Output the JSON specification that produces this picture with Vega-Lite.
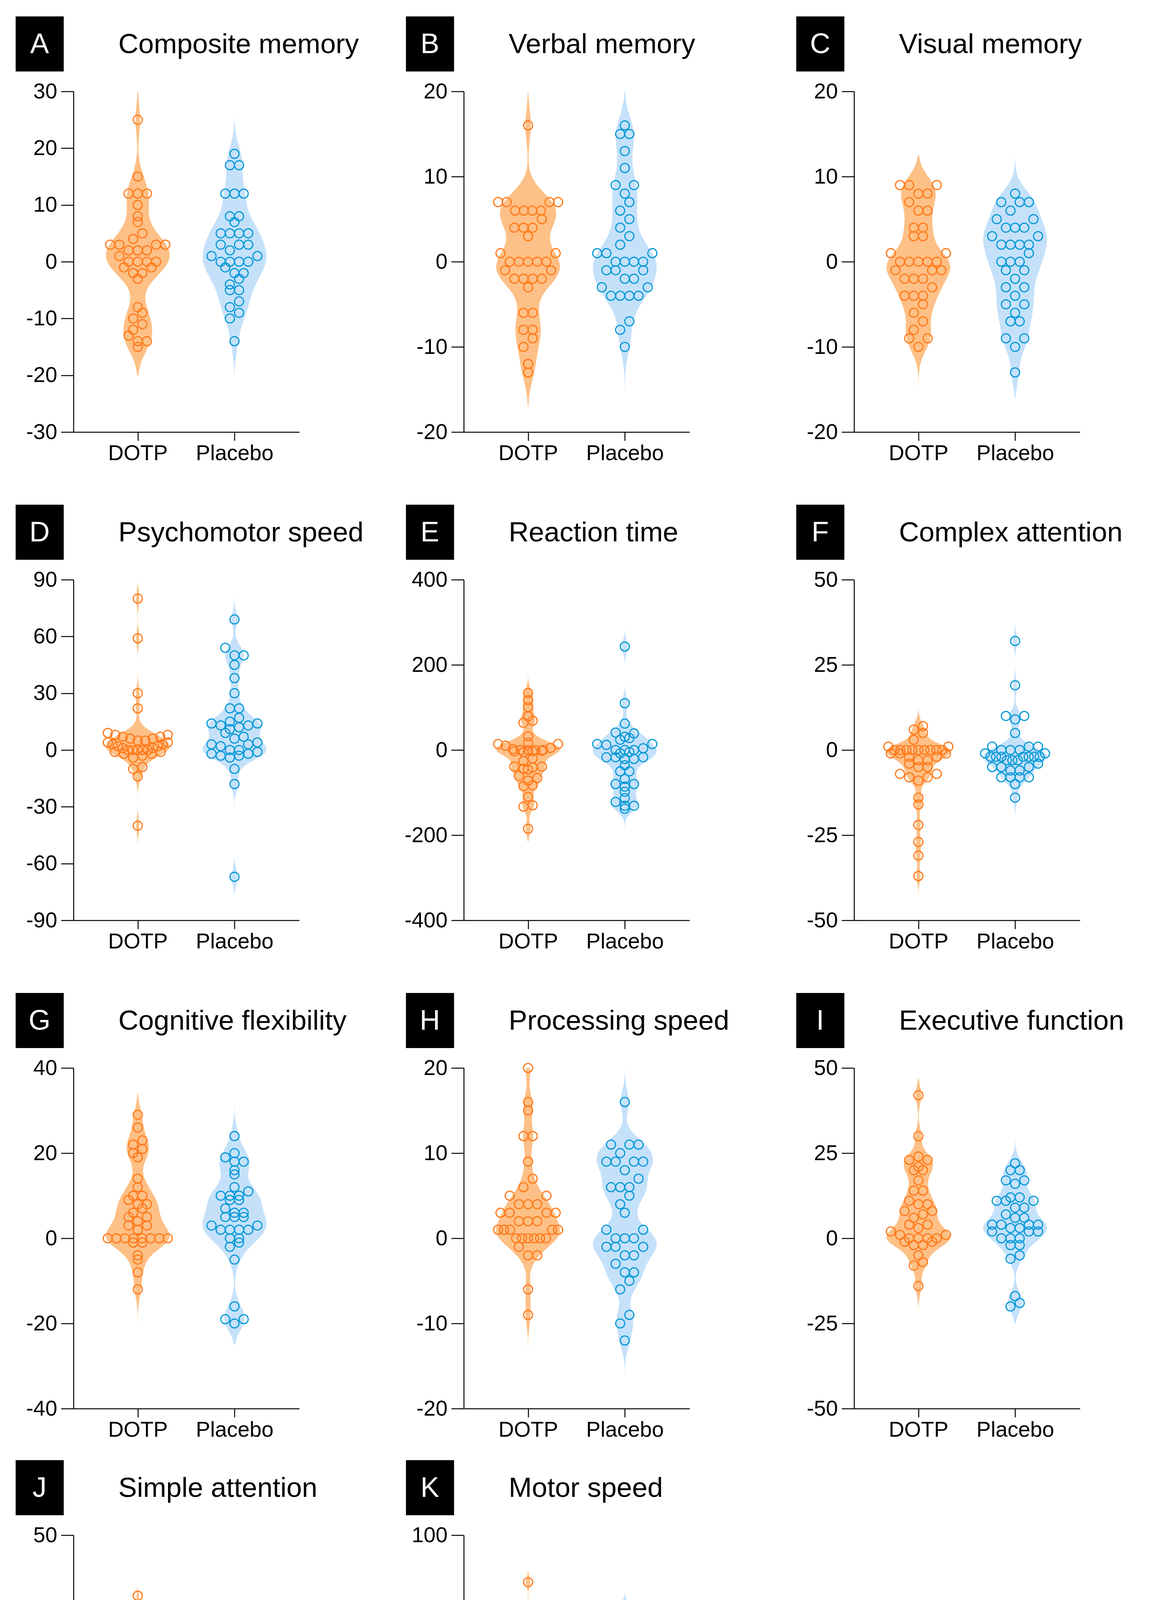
{
"$schema": "https://vega.github.io/schema/vega-lite/v6.json",
"background": "white",
"padding": {"left": 40, "top": 41, "right": 20, "bottom": 20},
"config": {
 "view": {"stroke": null},
 "font": "Liberation Sans",
 "axis": {"domainColor": "#000000", "domainWidth": 2.5, "tickColor": "#000000", "tickWidth": 2.5, "labelColor": "#000000", "labelFont": "Liberation Sans", "labelFontSize": 55, "grid": false, "labelLimit": 1000, "labelFlush": false, "labelOverlap": false},
 "axisX": {"tickSize": 22, "labelPadding": 6},
 "axisY": {"tickSize": 32, "labelPadding": 10}
},
"datasets": {
"h": [
{"p":"A","letter":"A","title":"Composite memory"},
{"p":"B","letter":"B","title":"Verbal memory"},
{"p":"C","letter":"C","title":"Visual memory"},
{"p":"D","letter":"D","title":"Psychomotor speed"},
{"p":"E","letter":"E","title":"Reaction time"},
{"p":"F","letter":"F","title":"Complex attention"},
{"p":"G","letter":"G","title":"Cognitive flexibility"},
{"p":"H","letter":"H","title":"Processing speed"},
{"p":"I","letter":"I","title":"Executive function"},
{"p":"J","letter":"J","title":"Simple attention"},
{"p":"K","letter":"K","title":"Motor speed"}
],
"d": [
{"p":"A","g":"DOTP","v":25},{"p":"A","g":"DOTP","v":15},{"p":"A","g":"DOTP","v":12},{"p":"A","g":"DOTP","v":12},{"p":"A","g":"DOTP","v":12},{"p":"A","g":"DOTP","v":10},{"p":"A","g":"DOTP","v":8},{"p":"A","g":"DOTP","v":7},{"p":"A","g":"DOTP","v":5},{"p":"A","g":"DOTP","v":4},{"p":"A","g":"DOTP","v":3},{"p":"A","g":"DOTP","v":3},{"p":"A","g":"DOTP","v":3},{"p":"A","g":"DOTP","v":3},{"p":"A","g":"DOTP","v":2},{"p":"A","g":"DOTP","v":2},{"p":"A","g":"DOTP","v":2},{"p":"A","g":"DOTP","v":1},{"p":"A","g":"DOTP","v":0},{"p":"A","g":"DOTP","v":0},{"p":"A","g":"DOTP","v":0},{"p":"A","g":"DOTP","v":0},{"p":"A","g":"DOTP","v":-1},{"p":"A","g":"DOTP","v":-1},{"p":"A","g":"DOTP","v":-2},{"p":"A","g":"DOTP","v":-2},{"p":"A","g":"DOTP","v":-3},{"p":"A","g":"DOTP","v":-8},{"p":"A","g":"DOTP","v":-9},{"p":"A","g":"DOTP","v":-10},{"p":"A","g":"DOTP","v":-11},{"p":"A","g":"DOTP","v":-12},{"p":"A","g":"DOTP","v":-13},{"p":"A","g":"DOTP","v":-14},{"p":"A","g":"DOTP","v":-14},{"p":"A","g":"DOTP","v":-15},
{"p":"A","g":"Placebo","v":19},{"p":"A","g":"Placebo","v":17},{"p":"A","g":"Placebo","v":17},{"p":"A","g":"Placebo","v":12},{"p":"A","g":"Placebo","v":12},{"p":"A","g":"Placebo","v":12},{"p":"A","g":"Placebo","v":8},{"p":"A","g":"Placebo","v":8},{"p":"A","g":"Placebo","v":7},{"p":"A","g":"Placebo","v":5},{"p":"A","g":"Placebo","v":5},{"p":"A","g":"Placebo","v":5},{"p":"A","g":"Placebo","v":5},{"p":"A","g":"Placebo","v":3},{"p":"A","g":"Placebo","v":3},{"p":"A","g":"Placebo","v":3},{"p":"A","g":"Placebo","v":2},{"p":"A","g":"Placebo","v":1},{"p":"A","g":"Placebo","v":1},{"p":"A","g":"Placebo","v":0},{"p":"A","g":"Placebo","v":0},{"p":"A","g":"Placebo","v":0},{"p":"A","g":"Placebo","v":0},{"p":"A","g":"Placebo","v":-1},{"p":"A","g":"Placebo","v":-2},{"p":"A","g":"Placebo","v":-2},{"p":"A","g":"Placebo","v":-3},{"p":"A","g":"Placebo","v":-4},{"p":"A","g":"Placebo","v":-5},{"p":"A","g":"Placebo","v":-5},{"p":"A","g":"Placebo","v":-7},{"p":"A","g":"Placebo","v":-8},{"p":"A","g":"Placebo","v":-9},{"p":"A","g":"Placebo","v":-10},{"p":"A","g":"Placebo","v":-14},
{"p":"B","g":"DOTP","v":16},{"p":"B","g":"DOTP","v":7},{"p":"B","g":"DOTP","v":7},{"p":"B","g":"DOTP","v":7},{"p":"B","g":"DOTP","v":7},{"p":"B","g":"DOTP","v":6},{"p":"B","g":"DOTP","v":6},{"p":"B","g":"DOTP","v":6},{"p":"B","g":"DOTP","v":6},{"p":"B","g":"DOTP","v":5},{"p":"B","g":"DOTP","v":4},{"p":"B","g":"DOTP","v":4},{"p":"B","g":"DOTP","v":4},{"p":"B","g":"DOTP","v":3},{"p":"B","g":"DOTP","v":1},{"p":"B","g":"DOTP","v":1},{"p":"B","g":"DOTP","v":0},{"p":"B","g":"DOTP","v":0},{"p":"B","g":"DOTP","v":0},{"p":"B","g":"DOTP","v":0},{"p":"B","g":"DOTP","v":0},{"p":"B","g":"DOTP","v":-1},{"p":"B","g":"DOTP","v":-1},{"p":"B","g":"DOTP","v":-2},{"p":"B","g":"DOTP","v":-2},{"p":"B","g":"DOTP","v":-2},{"p":"B","g":"DOTP","v":-2},{"p":"B","g":"DOTP","v":-3},{"p":"B","g":"DOTP","v":-6},{"p":"B","g":"DOTP","v":-6},{"p":"B","g":"DOTP","v":-8},{"p":"B","g":"DOTP","v":-8},{"p":"B","g":"DOTP","v":-9},{"p":"B","g":"DOTP","v":-10},{"p":"B","g":"DOTP","v":-12},{"p":"B","g":"DOTP","v":-13},
{"p":"B","g":"Placebo","v":16},{"p":"B","g":"Placebo","v":15},{"p":"B","g":"Placebo","v":15},{"p":"B","g":"Placebo","v":13},{"p":"B","g":"Placebo","v":11},{"p":"B","g":"Placebo","v":9},{"p":"B","g":"Placebo","v":9},{"p":"B","g":"Placebo","v":8},{"p":"B","g":"Placebo","v":7},{"p":"B","g":"Placebo","v":6},{"p":"B","g":"Placebo","v":5},{"p":"B","g":"Placebo","v":4},{"p":"B","g":"Placebo","v":3},{"p":"B","g":"Placebo","v":2},{"p":"B","g":"Placebo","v":1},{"p":"B","g":"Placebo","v":1},{"p":"B","g":"Placebo","v":1},{"p":"B","g":"Placebo","v":0},{"p":"B","g":"Placebo","v":0},{"p":"B","g":"Placebo","v":0},{"p":"B","g":"Placebo","v":0},{"p":"B","g":"Placebo","v":-1},{"p":"B","g":"Placebo","v":-1},{"p":"B","g":"Placebo","v":-1},{"p":"B","g":"Placebo","v":-2},{"p":"B","g":"Placebo","v":-2},{"p":"B","g":"Placebo","v":-3},{"p":"B","g":"Placebo","v":-3},{"p":"B","g":"Placebo","v":-4},{"p":"B","g":"Placebo","v":-4},{"p":"B","g":"Placebo","v":-4},{"p":"B","g":"Placebo","v":-4},{"p":"B","g":"Placebo","v":-7},{"p":"B","g":"Placebo","v":-8},{"p":"B","g":"Placebo","v":-10},
{"p":"C","g":"DOTP","v":9},{"p":"C","g":"DOTP","v":9},{"p":"C","g":"DOTP","v":9},{"p":"C","g":"DOTP","v":8},{"p":"C","g":"DOTP","v":8},{"p":"C","g":"DOTP","v":7},{"p":"C","g":"DOTP","v":6},{"p":"C","g":"DOTP","v":6},{"p":"C","g":"DOTP","v":4},{"p":"C","g":"DOTP","v":4},{"p":"C","g":"DOTP","v":3},{"p":"C","g":"DOTP","v":3},{"p":"C","g":"DOTP","v":1},{"p":"C","g":"DOTP","v":1},{"p":"C","g":"DOTP","v":0},{"p":"C","g":"DOTP","v":0},{"p":"C","g":"DOTP","v":0},{"p":"C","g":"DOTP","v":0},{"p":"C","g":"DOTP","v":0},{"p":"C","g":"DOTP","v":-1},{"p":"C","g":"DOTP","v":-1},{"p":"C","g":"DOTP","v":-1},{"p":"C","g":"DOTP","v":-2},{"p":"C","g":"DOTP","v":-2},{"p":"C","g":"DOTP","v":-2},{"p":"C","g":"DOTP","v":-3},{"p":"C","g":"DOTP","v":-4},{"p":"C","g":"DOTP","v":-4},{"p":"C","g":"DOTP","v":-4},{"p":"C","g":"DOTP","v":-5},{"p":"C","g":"DOTP","v":-6},{"p":"C","g":"DOTP","v":-7},{"p":"C","g":"DOTP","v":-8},{"p":"C","g":"DOTP","v":-9},{"p":"C","g":"DOTP","v":-9},{"p":"C","g":"DOTP","v":-10},
{"p":"C","g":"Placebo","v":8},{"p":"C","g":"Placebo","v":7},{"p":"C","g":"Placebo","v":7},{"p":"C","g":"Placebo","v":7},{"p":"C","g":"Placebo","v":6},{"p":"C","g":"Placebo","v":5},{"p":"C","g":"Placebo","v":5},{"p":"C","g":"Placebo","v":4},{"p":"C","g":"Placebo","v":4},{"p":"C","g":"Placebo","v":4},{"p":"C","g":"Placebo","v":3},{"p":"C","g":"Placebo","v":3},{"p":"C","g":"Placebo","v":2},{"p":"C","g":"Placebo","v":2},{"p":"C","g":"Placebo","v":2},{"p":"C","g":"Placebo","v":2},{"p":"C","g":"Placebo","v":1},{"p":"C","g":"Placebo","v":0},{"p":"C","g":"Placebo","v":0},{"p":"C","g":"Placebo","v":0},{"p":"C","g":"Placebo","v":-1},{"p":"C","g":"Placebo","v":-1},{"p":"C","g":"Placebo","v":-2},{"p":"C","g":"Placebo","v":-3},{"p":"C","g":"Placebo","v":-3},{"p":"C","g":"Placebo","v":-4},{"p":"C","g":"Placebo","v":-5},{"p":"C","g":"Placebo","v":-5},{"p":"C","g":"Placebo","v":-6},{"p":"C","g":"Placebo","v":-7},{"p":"C","g":"Placebo","v":-7},{"p":"C","g":"Placebo","v":-9},{"p":"C","g":"Placebo","v":-9},{"p":"C","g":"Placebo","v":-10},{"p":"C","g":"Placebo","v":-13},
{"p":"D","g":"DOTP","v":80},{"p":"D","g":"DOTP","v":59},{"p":"D","g":"DOTP","v":30},{"p":"D","g":"DOTP","v":22},{"p":"D","g":"DOTP","v":9},{"p":"D","g":"DOTP","v":8},{"p":"D","g":"DOTP","v":8},{"p":"D","g":"DOTP","v":7},{"p":"D","g":"DOTP","v":7},{"p":"D","g":"DOTP","v":6},{"p":"D","g":"DOTP","v":6},{"p":"D","g":"DOTP","v":5},{"p":"D","g":"DOTP","v":5},{"p":"D","g":"DOTP","v":4},{"p":"D","g":"DOTP","v":4},{"p":"D","g":"DOTP","v":3},{"p":"D","g":"DOTP","v":3},{"p":"D","g":"DOTP","v":2},{"p":"D","g":"DOTP","v":2},{"p":"D","g":"DOTP","v":1},{"p":"D","g":"DOTP","v":1},{"p":"D","g":"DOTP","v":0},{"p":"D","g":"DOTP","v":0},{"p":"D","g":"DOTP","v":0},{"p":"D","g":"DOTP","v":0},{"p":"D","g":"DOTP","v":0},{"p":"D","g":"DOTP","v":-1},{"p":"D","g":"DOTP","v":-1},{"p":"D","g":"DOTP","v":-2},{"p":"D","g":"DOTP","v":-2},{"p":"D","g":"DOTP","v":-3},{"p":"D","g":"DOTP","v":-4},{"p":"D","g":"DOTP","v":-9},{"p":"D","g":"DOTP","v":-10},{"p":"D","g":"DOTP","v":-14},{"p":"D","g":"DOTP","v":-40},
{"p":"D","g":"Placebo","v":69},{"p":"D","g":"Placebo","v":54},{"p":"D","g":"Placebo","v":50},{"p":"D","g":"Placebo","v":50},{"p":"D","g":"Placebo","v":45},{"p":"D","g":"Placebo","v":38},{"p":"D","g":"Placebo","v":30},{"p":"D","g":"Placebo","v":22},{"p":"D","g":"Placebo","v":22},{"p":"D","g":"Placebo","v":17},{"p":"D","g":"Placebo","v":15},{"p":"D","g":"Placebo","v":14},{"p":"D","g":"Placebo","v":14},{"p":"D","g":"Placebo","v":13},{"p":"D","g":"Placebo","v":13},{"p":"D","g":"Placebo","v":12},{"p":"D","g":"Placebo","v":11},{"p":"D","g":"Placebo","v":9},{"p":"D","g":"Placebo","v":7},{"p":"D","g":"Placebo","v":6},{"p":"D","g":"Placebo","v":4},{"p":"D","g":"Placebo","v":3},{"p":"D","g":"Placebo","v":3},{"p":"D","g":"Placebo","v":2},{"p":"D","g":"Placebo","v":0},{"p":"D","g":"Placebo","v":0},{"p":"D","g":"Placebo","v":-1},{"p":"D","g":"Placebo","v":-2},{"p":"D","g":"Placebo","v":-2},{"p":"D","g":"Placebo","v":-3},{"p":"D","g":"Placebo","v":-3},{"p":"D","g":"Placebo","v":-4},{"p":"D","g":"Placebo","v":-10},{"p":"D","g":"Placebo","v":-18},{"p":"D","g":"Placebo","v":-67},
{"p":"E","g":"DOTP","v":134},{"p":"E","g":"DOTP","v":117},{"p":"E","g":"DOTP","v":101},{"p":"E","g":"DOTP","v":79},{"p":"E","g":"DOTP","v":69},{"p":"E","g":"DOTP","v":64},{"p":"E","g":"DOTP","v":32},{"p":"E","g":"DOTP","v":17},{"p":"E","g":"DOTP","v":14},{"p":"E","g":"DOTP","v":14},{"p":"E","g":"DOTP","v":10},{"p":"E","g":"DOTP","v":5},{"p":"E","g":"DOTP","v":2},{"p":"E","g":"DOTP","v":0},{"p":"E","g":"DOTP","v":0},{"p":"E","g":"DOTP","v":0},{"p":"E","g":"DOTP","v":0},{"p":"E","g":"DOTP","v":-2},{"p":"E","g":"DOTP","v":-3},{"p":"E","g":"DOTP","v":-3},{"p":"E","g":"DOTP","v":-5},{"p":"E","g":"DOTP","v":-20},{"p":"E","g":"DOTP","v":-26},{"p":"E","g":"DOTP","v":-39},{"p":"E","g":"DOTP","v":-39},{"p":"E","g":"DOTP","v":-41},{"p":"E","g":"DOTP","v":-44},{"p":"E","g":"DOTP","v":-46},{"p":"E","g":"DOTP","v":-61},{"p":"E","g":"DOTP","v":-66},{"p":"E","g":"DOTP","v":-72},{"p":"E","g":"DOTP","v":-83},{"p":"E","g":"DOTP","v":-85},{"p":"E","g":"DOTP","v":-110},{"p":"E","g":"DOTP","v":-130},{"p":"E","g":"DOTP","v":-133},{"p":"E","g":"DOTP","v":-185},
{"p":"E","g":"Placebo","v":243},{"p":"E","g":"Placebo","v":110},{"p":"E","g":"Placebo","v":62},{"p":"E","g":"Placebo","v":41},{"p":"E","g":"Placebo","v":39},{"p":"E","g":"Placebo","v":31},{"p":"E","g":"Placebo","v":28},{"p":"E","g":"Placebo","v":24},{"p":"E","g":"Placebo","v":14},{"p":"E","g":"Placebo","v":14},{"p":"E","g":"Placebo","v":12},{"p":"E","g":"Placebo","v":4},{"p":"E","g":"Placebo","v":0},{"p":"E","g":"Placebo","v":0},{"p":"E","g":"Placebo","v":0},{"p":"E","g":"Placebo","v":-5},{"p":"E","g":"Placebo","v":-8},{"p":"E","g":"Placebo","v":-17},{"p":"E","g":"Placebo","v":-17},{"p":"E","g":"Placebo","v":-17},{"p":"E","g":"Placebo","v":-21},{"p":"E","g":"Placebo","v":-21},{"p":"E","g":"Placebo","v":-36},{"p":"E","g":"Placebo","v":-50},{"p":"E","g":"Placebo","v":-50},{"p":"E","g":"Placebo","v":-68},{"p":"E","g":"Placebo","v":-80},{"p":"E","g":"Placebo","v":-80},{"p":"E","g":"Placebo","v":-86},{"p":"E","g":"Placebo","v":-98},{"p":"E","g":"Placebo","v":-113},{"p":"E","g":"Placebo","v":-122},{"p":"E","g":"Placebo","v":-131},{"p":"E","g":"Placebo","v":-131},{"p":"E","g":"Placebo","v":-138},
{"p":"F","g":"DOTP","v":7},{"p":"F","g":"DOTP","v":6},{"p":"F","g":"DOTP","v":5},{"p":"F","g":"DOTP","v":3},{"p":"F","g":"DOTP","v":1},{"p":"F","g":"DOTP","v":1},{"p":"F","g":"DOTP","v":0},{"p":"F","g":"DOTP","v":0},{"p":"F","g":"DOTP","v":0},{"p":"F","g":"DOTP","v":0},{"p":"F","g":"DOTP","v":0},{"p":"F","g":"DOTP","v":0},{"p":"F","g":"DOTP","v":0},{"p":"F","g":"DOTP","v":0},{"p":"F","g":"DOTP","v":0},{"p":"F","g":"DOTP","v":-1},{"p":"F","g":"DOTP","v":-1},{"p":"F","g":"DOTP","v":-1},{"p":"F","g":"DOTP","v":-2},{"p":"F","g":"DOTP","v":-2},{"p":"F","g":"DOTP","v":-3},{"p":"F","g":"DOTP","v":-3},{"p":"F","g":"DOTP","v":-4},{"p":"F","g":"DOTP","v":-5},{"p":"F","g":"DOTP","v":-5},{"p":"F","g":"DOTP","v":-7},{"p":"F","g":"DOTP","v":-7},{"p":"F","g":"DOTP","v":-8},{"p":"F","g":"DOTP","v":-8},{"p":"F","g":"DOTP","v":-9},{"p":"F","g":"DOTP","v":-14},{"p":"F","g":"DOTP","v":-16},{"p":"F","g":"DOTP","v":-22},{"p":"F","g":"DOTP","v":-27},{"p":"F","g":"DOTP","v":-31},{"p":"F","g":"DOTP","v":-37},
{"p":"F","g":"Placebo","v":32},{"p":"F","g":"Placebo","v":19},{"p":"F","g":"Placebo","v":10},{"p":"F","g":"Placebo","v":10},{"p":"F","g":"Placebo","v":9},{"p":"F","g":"Placebo","v":5},{"p":"F","g":"Placebo","v":1},{"p":"F","g":"Placebo","v":1},{"p":"F","g":"Placebo","v":1},{"p":"F","g":"Placebo","v":0},{"p":"F","g":"Placebo","v":0},{"p":"F","g":"Placebo","v":0},{"p":"F","g":"Placebo","v":-1},{"p":"F","g":"Placebo","v":-1},{"p":"F","g":"Placebo","v":-2},{"p":"F","g":"Placebo","v":-2},{"p":"F","g":"Placebo","v":-2},{"p":"F","g":"Placebo","v":-2},{"p":"F","g":"Placebo","v":-2},{"p":"F","g":"Placebo","v":-2},{"p":"F","g":"Placebo","v":-2},{"p":"F","g":"Placebo","v":-3},{"p":"F","g":"Placebo","v":-3},{"p":"F","g":"Placebo","v":-3},{"p":"F","g":"Placebo","v":-4},{"p":"F","g":"Placebo","v":-5},{"p":"F","g":"Placebo","v":-5},{"p":"F","g":"Placebo","v":-5},{"p":"F","g":"Placebo","v":-6},{"p":"F","g":"Placebo","v":-6},{"p":"F","g":"Placebo","v":-8},{"p":"F","g":"Placebo","v":-8},{"p":"F","g":"Placebo","v":-8},{"p":"F","g":"Placebo","v":-8},{"p":"F","g":"Placebo","v":-10},{"p":"F","g":"Placebo","v":-14},
{"p":"G","g":"DOTP","v":29},{"p":"G","g":"DOTP","v":26},{"p":"G","g":"DOTP","v":23},{"p":"G","g":"DOTP","v":22},{"p":"G","g":"DOTP","v":21},{"p":"G","g":"DOTP","v":20},{"p":"G","g":"DOTP","v":19},{"p":"G","g":"DOTP","v":14},{"p":"G","g":"DOTP","v":12},{"p":"G","g":"DOTP","v":10},{"p":"G","g":"DOTP","v":10},{"p":"G","g":"DOTP","v":9},{"p":"G","g":"DOTP","v":8},{"p":"G","g":"DOTP","v":8},{"p":"G","g":"DOTP","v":7},{"p":"G","g":"DOTP","v":6},{"p":"G","g":"DOTP","v":5},{"p":"G","g":"DOTP","v":5},{"p":"G","g":"DOTP","v":4},{"p":"G","g":"DOTP","v":3},{"p":"G","g":"DOTP","v":3},{"p":"G","g":"DOTP","v":2},{"p":"G","g":"DOTP","v":0},{"p":"G","g":"DOTP","v":0},{"p":"G","g":"DOTP","v":0},{"p":"G","g":"DOTP","v":0},{"p":"G","g":"DOTP","v":0},{"p":"G","g":"DOTP","v":0},{"p":"G","g":"DOTP","v":0},{"p":"G","g":"DOTP","v":0},{"p":"G","g":"DOTP","v":-1},{"p":"G","g":"DOTP","v":-1},{"p":"G","g":"DOTP","v":-4},{"p":"G","g":"DOTP","v":-5},{"p":"G","g":"DOTP","v":-8},{"p":"G","g":"DOTP","v":-12},
{"p":"G","g":"Placebo","v":24},{"p":"G","g":"Placebo","v":20},{"p":"G","g":"Placebo","v":19},{"p":"G","g":"Placebo","v":18},{"p":"G","g":"Placebo","v":18},{"p":"G","g":"Placebo","v":16},{"p":"G","g":"Placebo","v":15},{"p":"G","g":"Placebo","v":12},{"p":"G","g":"Placebo","v":11},{"p":"G","g":"Placebo","v":10},{"p":"G","g":"Placebo","v":10},{"p":"G","g":"Placebo","v":10},{"p":"G","g":"Placebo","v":9},{"p":"G","g":"Placebo","v":9},{"p":"G","g":"Placebo","v":7},{"p":"G","g":"Placebo","v":6},{"p":"G","g":"Placebo","v":6},{"p":"G","g":"Placebo","v":5},{"p":"G","g":"Placebo","v":5},{"p":"G","g":"Placebo","v":5},{"p":"G","g":"Placebo","v":3},{"p":"G","g":"Placebo","v":3},{"p":"G","g":"Placebo","v":2},{"p":"G","g":"Placebo","v":2},{"p":"G","g":"Placebo","v":2},{"p":"G","g":"Placebo","v":2},{"p":"G","g":"Placebo","v":0},{"p":"G","g":"Placebo","v":0},{"p":"G","g":"Placebo","v":-1},{"p":"G","g":"Placebo","v":-2},{"p":"G","g":"Placebo","v":-5},{"p":"G","g":"Placebo","v":-16},{"p":"G","g":"Placebo","v":-19},{"p":"G","g":"Placebo","v":-19},{"p":"G","g":"Placebo","v":-20},
{"p":"H","g":"DOTP","v":20},{"p":"H","g":"DOTP","v":16},{"p":"H","g":"DOTP","v":15},{"p":"H","g":"DOTP","v":12},{"p":"H","g":"DOTP","v":12},{"p":"H","g":"DOTP","v":9},{"p":"H","g":"DOTP","v":7},{"p":"H","g":"DOTP","v":6},{"p":"H","g":"DOTP","v":5},{"p":"H","g":"DOTP","v":5},{"p":"H","g":"DOTP","v":4},{"p":"H","g":"DOTP","v":4},{"p":"H","g":"DOTP","v":4},{"p":"H","g":"DOTP","v":3},{"p":"H","g":"DOTP","v":3},{"p":"H","g":"DOTP","v":3},{"p":"H","g":"DOTP","v":3},{"p":"H","g":"DOTP","v":2},{"p":"H","g":"DOTP","v":2},{"p":"H","g":"DOTP","v":2},{"p":"H","g":"DOTP","v":1},{"p":"H","g":"DOTP","v":1},{"p":"H","g":"DOTP","v":1},{"p":"H","g":"DOTP","v":1},{"p":"H","g":"DOTP","v":1},{"p":"H","g":"DOTP","v":0},{"p":"H","g":"DOTP","v":0},{"p":"H","g":"DOTP","v":0},{"p":"H","g":"DOTP","v":0},{"p":"H","g":"DOTP","v":0},{"p":"H","g":"DOTP","v":0},{"p":"H","g":"DOTP","v":-1},{"p":"H","g":"DOTP","v":-2},{"p":"H","g":"DOTP","v":-2},{"p":"H","g":"DOTP","v":-6},{"p":"H","g":"DOTP","v":-9},
{"p":"H","g":"Placebo","v":16},{"p":"H","g":"Placebo","v":11},{"p":"H","g":"Placebo","v":11},{"p":"H","g":"Placebo","v":11},{"p":"H","g":"Placebo","v":10},{"p":"H","g":"Placebo","v":9},{"p":"H","g":"Placebo","v":9},{"p":"H","g":"Placebo","v":9},{"p":"H","g":"Placebo","v":9},{"p":"H","g":"Placebo","v":8},{"p":"H","g":"Placebo","v":7},{"p":"H","g":"Placebo","v":6},{"p":"H","g":"Placebo","v":6},{"p":"H","g":"Placebo","v":6},{"p":"H","g":"Placebo","v":5},{"p":"H","g":"Placebo","v":4},{"p":"H","g":"Placebo","v":3},{"p":"H","g":"Placebo","v":1},{"p":"H","g":"Placebo","v":1},{"p":"H","g":"Placebo","v":0},{"p":"H","g":"Placebo","v":0},{"p":"H","g":"Placebo","v":0},{"p":"H","g":"Placebo","v":-1},{"p":"H","g":"Placebo","v":-1},{"p":"H","g":"Placebo","v":-1},{"p":"H","g":"Placebo","v":-2},{"p":"H","g":"Placebo","v":-2},{"p":"H","g":"Placebo","v":-3},{"p":"H","g":"Placebo","v":-4},{"p":"H","g":"Placebo","v":-4},{"p":"H","g":"Placebo","v":-5},{"p":"H","g":"Placebo","v":-6},{"p":"H","g":"Placebo","v":-9},{"p":"H","g":"Placebo","v":-10},{"p":"H","g":"Placebo","v":-12},
{"p":"I","g":"DOTP","v":42},{"p":"I","g":"DOTP","v":30},{"p":"I","g":"DOTP","v":24},{"p":"I","g":"DOTP","v":23},{"p":"I","g":"DOTP","v":23},{"p":"I","g":"DOTP","v":21},{"p":"I","g":"DOTP","v":20},{"p":"I","g":"DOTP","v":20},{"p":"I","g":"DOTP","v":17},{"p":"I","g":"DOTP","v":14},{"p":"I","g":"DOTP","v":14},{"p":"I","g":"DOTP","v":11},{"p":"I","g":"DOTP","v":10},{"p":"I","g":"DOTP","v":10},{"p":"I","g":"DOTP","v":8},{"p":"I","g":"DOTP","v":8},{"p":"I","g":"DOTP","v":7},{"p":"I","g":"DOTP","v":6},{"p":"I","g":"DOTP","v":4},{"p":"I","g":"DOTP","v":4},{"p":"I","g":"DOTP","v":3},{"p":"I","g":"DOTP","v":2},{"p":"I","g":"DOTP","v":1},{"p":"I","g":"DOTP","v":1},{"p":"I","g":"DOTP","v":0},{"p":"I","g":"DOTP","v":0},{"p":"I","g":"DOTP","v":0},{"p":"I","g":"DOTP","v":0},{"p":"I","g":"DOTP","v":-1},{"p":"I","g":"DOTP","v":-1},{"p":"I","g":"DOTP","v":-2},{"p":"I","g":"DOTP","v":-2},{"p":"I","g":"DOTP","v":-5},{"p":"I","g":"DOTP","v":-7},{"p":"I","g":"DOTP","v":-8},{"p":"I","g":"DOTP","v":-14},
{"p":"I","g":"Placebo","v":22},{"p":"I","g":"Placebo","v":20},{"p":"I","g":"Placebo","v":20},{"p":"I","g":"Placebo","v":17},{"p":"I","g":"Placebo","v":17},{"p":"I","g":"Placebo","v":16},{"p":"I","g":"Placebo","v":12},{"p":"I","g":"Placebo","v":12},{"p":"I","g":"Placebo","v":11},{"p":"I","g":"Placebo","v":11},{"p":"I","g":"Placebo","v":11},{"p":"I","g":"Placebo","v":9},{"p":"I","g":"Placebo","v":9},{"p":"I","g":"Placebo","v":7},{"p":"I","g":"Placebo","v":6},{"p":"I","g":"Placebo","v":6},{"p":"I","g":"Placebo","v":4},{"p":"I","g":"Placebo","v":4},{"p":"I","g":"Placebo","v":4},{"p":"I","g":"Placebo","v":4},{"p":"I","g":"Placebo","v":3},{"p":"I","g":"Placebo","v":3},{"p":"I","g":"Placebo","v":2},{"p":"I","g":"Placebo","v":2},{"p":"I","g":"Placebo","v":2},{"p":"I","g":"Placebo","v":0},{"p":"I","g":"Placebo","v":0},{"p":"I","g":"Placebo","v":0},{"p":"I","g":"Placebo","v":-2},{"p":"I","g":"Placebo","v":-2},{"p":"I","g":"Placebo","v":-5},{"p":"I","g":"Placebo","v":-6},{"p":"I","g":"Placebo","v":-17},{"p":"I","g":"Placebo","v":-19},{"p":"I","g":"Placebo","v":-20},
{"p":"J","g":"DOTP","v":32},{"p":"J","g":"DOTP","v":19},{"p":"J","g":"DOTP","v":3},{"p":"J","g":"DOTP","v":3},{"p":"J","g":"DOTP","v":2},{"p":"J","g":"DOTP","v":2},{"p":"J","g":"DOTP","v":1},{"p":"J","g":"DOTP","v":1},{"p":"J","g":"DOTP","v":1},{"p":"J","g":"DOTP","v":0},{"p":"J","g":"DOTP","v":0},{"p":"J","g":"DOTP","v":0},{"p":"J","g":"DOTP","v":0},{"p":"J","g":"DOTP","v":0},{"p":"J","g":"DOTP","v":0},{"p":"J","g":"DOTP","v":0},{"p":"J","g":"DOTP","v":0},{"p":"J","g":"DOTP","v":0},{"p":"J","g":"DOTP","v":0},{"p":"J","g":"DOTP","v":0},{"p":"J","g":"DOTP","v":0},{"p":"J","g":"DOTP","v":0},{"p":"J","g":"DOTP","v":0},{"p":"J","g":"DOTP","v":0},{"p":"J","g":"DOTP","v":0},{"p":"J","g":"DOTP","v":0},{"p":"J","g":"DOTP","v":0},{"p":"J","g":"DOTP","v":0},{"p":"J","g":"DOTP","v":0},{"p":"J","g":"DOTP","v":0},{"p":"J","g":"DOTP","v":0},{"p":"J","g":"DOTP","v":-1},{"p":"J","g":"DOTP","v":-2},{"p":"J","g":"DOTP","v":-3},{"p":"J","g":"DOTP","v":-39},
{"p":"J","g":"Placebo","v":4},{"p":"J","g":"Placebo","v":3},{"p":"J","g":"Placebo","v":2},{"p":"J","g":"Placebo","v":2},{"p":"J","g":"Placebo","v":1},{"p":"J","g":"Placebo","v":1},{"p":"J","g":"Placebo","v":1},{"p":"J","g":"Placebo","v":0},{"p":"J","g":"Placebo","v":0},{"p":"J","g":"Placebo","v":0},{"p":"J","g":"Placebo","v":0},{"p":"J","g":"Placebo","v":0},{"p":"J","g":"Placebo","v":0},{"p":"J","g":"Placebo","v":0},{"p":"J","g":"Placebo","v":0},{"p":"J","g":"Placebo","v":0},{"p":"J","g":"Placebo","v":0},{"p":"J","g":"Placebo","v":0},{"p":"J","g":"Placebo","v":0},{"p":"J","g":"Placebo","v":0},{"p":"J","g":"Placebo","v":0},{"p":"J","g":"Placebo","v":0},{"p":"J","g":"Placebo","v":0},{"p":"J","g":"Placebo","v":0},{"p":"J","g":"Placebo","v":0},{"p":"J","g":"Placebo","v":0},{"p":"J","g":"Placebo","v":0},{"p":"J","g":"Placebo","v":0},{"p":"J","g":"Placebo","v":0},{"p":"J","g":"Placebo","v":-1},{"p":"J","g":"Placebo","v":-1},{"p":"J","g":"Placebo","v":-2},{"p":"J","g":"Placebo","v":-3},{"p":"J","g":"Placebo","v":-6},{"p":"J","g":"Placebo","v":-8},
{"p":"K","g":"DOTP","v":72},{"p":"K","g":"DOTP","v":56},{"p":"K","g":"DOTP","v":26},{"p":"K","g":"DOTP","v":10},{"p":"K","g":"DOTP","v":9},{"p":"K","g":"DOTP","v":9},{"p":"K","g":"DOTP","v":8},{"p":"K","g":"DOTP","v":7},{"p":"K","g":"DOTP","v":6},{"p":"K","g":"DOTP","v":5},{"p":"K","g":"DOTP","v":5},{"p":"K","g":"DOTP","v":4},{"p":"K","g":"DOTP","v":3},{"p":"K","g":"DOTP","v":3},{"p":"K","g":"DOTP","v":2},{"p":"K","g":"DOTP","v":1},{"p":"K","g":"DOTP","v":1},{"p":"K","g":"DOTP","v":0},{"p":"K","g":"DOTP","v":0},{"p":"K","g":"DOTP","v":0},{"p":"K","g":"DOTP","v":0},{"p":"K","g":"DOTP","v":0},{"p":"K","g":"DOTP","v":-1},{"p":"K","g":"DOTP","v":-1},{"p":"K","g":"DOTP","v":-1},{"p":"K","g":"DOTP","v":-2},{"p":"K","g":"DOTP","v":-3},{"p":"K","g":"DOTP","v":-4},{"p":"K","g":"DOTP","v":-5},{"p":"K","g":"DOTP","v":-6},{"p":"K","g":"DOTP","v":-7},{"p":"K","g":"DOTP","v":-9},{"p":"K","g":"DOTP","v":-22},{"p":"K","g":"DOTP","v":-27},{"p":"K","g":"DOTP","v":-37},
{"p":"K","g":"Placebo","v":58},{"p":"K","g":"Placebo","v":56},{"p":"K","g":"Placebo","v":54},{"p":"K","g":"Placebo","v":44},{"p":"K","g":"Placebo","v":42},{"p":"K","g":"Placebo","v":39},{"p":"K","g":"Placebo","v":32},{"p":"K","g":"Placebo","v":16},{"p":"K","g":"Placebo","v":16},{"p":"K","g":"Placebo","v":14},{"p":"K","g":"Placebo","v":14},{"p":"K","g":"Placebo","v":14},{"p":"K","g":"Placebo","v":12},{"p":"K","g":"Placebo","v":11},{"p":"K","g":"Placebo","v":8},{"p":"K","g":"Placebo","v":5},{"p":"K","g":"Placebo","v":4},{"p":"K","g":"Placebo","v":4},{"p":"K","g":"Placebo","v":3},{"p":"K","g":"Placebo","v":3},{"p":"K","g":"Placebo","v":1},{"p":"K","g":"Placebo","v":0},{"p":"K","g":"Placebo","v":0},{"p":"K","g":"Placebo","v":0},{"p":"K","g":"Placebo","v":0},{"p":"K","g":"Placebo","v":-1},{"p":"K","g":"Placebo","v":-1},{"p":"K","g":"Placebo","v":-2},{"p":"K","g":"Placebo","v":-2},{"p":"K","g":"Placebo","v":-4},{"p":"K","g":"Placebo","v":-4},{"p":"K","g":"Placebo","v":-7},{"p":"K","g":"Placebo","v":-7},{"p":"K","g":"Placebo","v":-7},{"p":"K","g":"Placebo","v":-9},{"p":"K","g":"Placebo","v":-67}
]
},
"spacing": 49,
"vconcat": [
{"columns": 3, "bounds": "flush", "spacing": {"row": 378, "column": 421}, "concat": [
{"width": 578, "height": 872, "resolve": {"scale": {"x": "independent", "y": "independent"}}, "layer": [
 {"data": {"name": "d"}, "layer": [
  {"transform": [{"filter": "datum.p === 'A'"}, {"density": "v", "groupby": ["g"], "bandwidth": 2.5, "extent": [-20, 30], "steps": 300, "as": ["v", "dens"]}, {"joinaggregate": [{"op": "max", "field": "dens", "as": "mx"}], "groupby": ["g"]}, {"calculate": "(datum.g === 'DOTP' ? 1 : 2) - 0.33 * datum.dens / datum.mx", "as": "xp"}, {"calculate": "(datum.g === 'DOTP' ? 1 : 2) + 0.33 * datum.dens / datum.mx", "as": "xr"}],
   "mark": {"type": "area", "orient": "horizontal", "opacity": 1},
   "encoding": {"x": {"field": "xp", "type": "quantitative", "scale": {"domain": [0.335, 2.67], "nice": false, "zero": false}, "axis": {"values": [1, 2], "labelExpr": "datum.value == 1 ? 'DOTP' : 'Placebo'", "title": null}}, "x2": {"field": "xr"}, "y": {"field": "v", "type": "quantitative", "scale": {"domain": [-30, 30], "nice": false, "zero": false}, "axis": {"values": [-30, -20, -10, 0, 10, 20, 30], "labelExpr": "'' + datum.value", "title": null}}, "fill": {"field": "g", "type": "nominal", "scale": {"domain": ["DOTP", "Placebo"], "range": ["#FDC086", "#C5E1FA"]}, "legend": null}}},
  {"transform": [{"filter": "datum.p === 'A'"}, {"calculate": "floor(datum.v / 2)", "as": "bk"}, {"window": [{"op": "row_number", "as": "k"}], "groupby": ["g", "bk"], "sort": [{"field": "v", "order": "ascending"}]}, {"joinaggregate": [{"op": "count", "as": "n"}], "groupby": ["g", "bk"]}, {"calculate": "(datum.g === 'DOTP' ? 1 : 2) + (datum.k % 2 == 0 ? 1 : -1) * (datum.n % 2 == 1 ? floor(datum.k / 2) : ceil(datum.k / 2) - 0.5) * min(0.095, 0.62 / max(1, datum.n - 1))", "as": "xp"}],
   "mark": {"type": "point", "shape": "circle", "filled": false, "size": 540, "strokeWidth": 3, "opacity": 1},
   "encoding": {"x": {"field": "xp", "type": "quantitative", "scale": {"domain": [0.335, 2.67], "nice": false, "zero": false}, "axis": {"values": [1, 2], "labelExpr": "datum.value == 1 ? 'DOTP' : 'Placebo'", "title": null}}, "y": {"field": "v", "type": "quantitative", "scale": {"domain": [-30, 30], "nice": false, "zero": false}, "axis": {"values": [-30, -20, -10, 0, 10, 20, 30], "labelExpr": "'' + datum.value", "title": null}}, "stroke": {"field": "g", "type": "nominal", "scale": {"domain": ["DOTP", "Placebo"], "range": ["#FF7A1C", "#0A9AD7"]}, "legend": null}}}
 ]},
 {"data": {"name": "h"}, "transform": [{"filter": "datum.p === 'A'"}], "layer": [
  {"mark": {"type": "rect", "color": "#000000"}, "encoding": {"x": {"datum": -0.256, "type": "quantitative", "scale": {"domain": [0, 1], "nice": false}, "axis": null}, "x2": {"datum": -0.043}, "y": {"datum": 1.2202, "type": "quantitative", "scale": {"domain": [0, 1], "nice": false}, "axis": null}, "y2": {"datum": 1.0585}}},
  {"mark": {"type": "text", "color": "#ffffff", "fontSize": 72, "font": "Liberation Sans", "baseline": "alphabetic", "align": "center"}, "encoding": {"x": {"datum": -0.15, "type": "quantitative", "axis": null}, "y": {"datum": 1.1124, "type": "quantitative", "axis": null}, "text": {"field": "letter"}}},
  {"mark": {"type": "text", "color": "#000000", "fontSize": 71, "font": "Liberation Sans", "baseline": "alphabetic", "align": "left"}, "encoding": {"x": {"datum": 0.199, "type": "quantitative", "axis": null}, "y": {"datum": 1.1124, "type": "quantitative", "axis": null}, "text": {"field": "title"}}}
 ]}
]},
{"width": 578, "height": 872, "resolve": {"scale": {"x": "independent", "y": "independent"}}, "layer": [
 {"data": {"name": "d"}, "layer": [
  {"transform": [{"filter": "datum.p === 'B'"}, {"density": "v", "groupby": ["g"], "bandwidth": 1.8, "extent": [-17, 20], "steps": 300, "as": ["v", "dens"]}, {"joinaggregate": [{"op": "max", "field": "dens", "as": "mx"}], "groupby": ["g"]}, {"calculate": "(datum.g === 'DOTP' ? 1 : 2) - 0.33 * datum.dens / datum.mx", "as": "xp"}, {"calculate": "(datum.g === 'DOTP' ? 1 : 2) + 0.33 * datum.dens / datum.mx", "as": "xr"}],
   "mark": {"type": "area", "orient": "horizontal", "opacity": 1},
   "encoding": {"x": {"field": "xp", "type": "quantitative", "scale": {"domain": [0.335, 2.67], "nice": false, "zero": false}, "axis": {"values": [1, 2], "labelExpr": "datum.value == 1 ? 'DOTP' : 'Placebo'", "title": null}}, "x2": {"field": "xr"}, "y": {"field": "v", "type": "quantitative", "scale": {"domain": [-20, 20], "nice": false, "zero": false}, "axis": {"values": [-20, -10, 0, 10, 20], "labelExpr": "'' + datum.value", "title": null}}, "fill": {"field": "g", "type": "nominal", "scale": {"domain": ["DOTP", "Placebo"], "range": ["#FDC086", "#C5E1FA"]}, "legend": null}}},
  {"transform": [{"filter": "datum.p === 'B'"}, {"calculate": "floor(datum.v / 2)", "as": "bk"}, {"window": [{"op": "row_number", "as": "k"}], "groupby": ["g", "bk"], "sort": [{"field": "v", "order": "ascending"}]}, {"joinaggregate": [{"op": "count", "as": "n"}], "groupby": ["g", "bk"]}, {"calculate": "(datum.g === 'DOTP' ? 1 : 2) + (datum.k % 2 == 0 ? 1 : -1) * (datum.n % 2 == 1 ? floor(datum.k / 2) : ceil(datum.k / 2) - 0.5) * min(0.095, 0.62 / max(1, datum.n - 1))", "as": "xp"}],
   "mark": {"type": "point", "shape": "circle", "filled": false, "size": 540, "strokeWidth": 3, "opacity": 1},
   "encoding": {"x": {"field": "xp", "type": "quantitative", "scale": {"domain": [0.335, 2.67], "nice": false, "zero": false}, "axis": {"values": [1, 2], "labelExpr": "datum.value == 1 ? 'DOTP' : 'Placebo'", "title": null}}, "y": {"field": "v", "type": "quantitative", "scale": {"domain": [-20, 20], "nice": false, "zero": false}, "axis": {"values": [-20, -10, 0, 10, 20], "labelExpr": "'' + datum.value", "title": null}}, "stroke": {"field": "g", "type": "nominal", "scale": {"domain": ["DOTP", "Placebo"], "range": ["#FF7A1C", "#0A9AD7"]}, "legend": null}}}
 ]},
 {"data": {"name": "h"}, "transform": [{"filter": "datum.p === 'B'"}], "layer": [
  {"mark": {"type": "rect", "color": "#000000"}, "encoding": {"x": {"datum": -0.256, "type": "quantitative", "scale": {"domain": [0, 1], "nice": false}, "axis": null}, "x2": {"datum": -0.043}, "y": {"datum": 1.2202, "type": "quantitative", "scale": {"domain": [0, 1], "nice": false}, "axis": null}, "y2": {"datum": 1.0585}}},
  {"mark": {"type": "text", "color": "#ffffff", "fontSize": 72, "font": "Liberation Sans", "baseline": "alphabetic", "align": "center"}, "encoding": {"x": {"datum": -0.15, "type": "quantitative", "axis": null}, "y": {"datum": 1.1124, "type": "quantitative", "axis": null}, "text": {"field": "letter"}}},
  {"mark": {"type": "text", "color": "#000000", "fontSize": 71, "font": "Liberation Sans", "baseline": "alphabetic", "align": "left"}, "encoding": {"x": {"datum": 0.199, "type": "quantitative", "axis": null}, "y": {"datum": 1.1124, "type": "quantitative", "axis": null}, "text": {"field": "title"}}}
 ]}
]},
{"width": 578, "height": 872, "resolve": {"scale": {"x": "independent", "y": "independent"}}, "layer": [
 {"data": {"name": "d"}, "layer": [
  {"transform": [{"filter": "datum.p === 'C'"}, {"density": "v", "groupby": ["g"], "bandwidth": 1.5, "extent": [-16, 12.5], "steps": 300, "as": ["v", "dens"]}, {"joinaggregate": [{"op": "max", "field": "dens", "as": "mx"}], "groupby": ["g"]}, {"calculate": "(datum.g === 'DOTP' ? 1 : 2) - 0.33 * datum.dens / datum.mx", "as": "xp"}, {"calculate": "(datum.g === 'DOTP' ? 1 : 2) + 0.33 * datum.dens / datum.mx", "as": "xr"}],
   "mark": {"type": "area", "orient": "horizontal", "opacity": 1},
   "encoding": {"x": {"field": "xp", "type": "quantitative", "scale": {"domain": [0.335, 2.67], "nice": false, "zero": false}, "axis": {"values": [1, 2], "labelExpr": "datum.value == 1 ? 'DOTP' : 'Placebo'", "title": null}}, "x2": {"field": "xr"}, "y": {"field": "v", "type": "quantitative", "scale": {"domain": [-20, 20], "nice": false, "zero": false}, "axis": {"values": [-20, -10, 0, 10, 20], "labelExpr": "'' + datum.value", "title": null}}, "fill": {"field": "g", "type": "nominal", "scale": {"domain": ["DOTP", "Placebo"], "range": ["#FDC086", "#C5E1FA"]}, "legend": null}}},
  {"transform": [{"filter": "datum.p === 'C'"}, {"calculate": "floor(datum.v / 2)", "as": "bk"}, {"window": [{"op": "row_number", "as": "k"}], "groupby": ["g", "bk"], "sort": [{"field": "v", "order": "ascending"}]}, {"joinaggregate": [{"op": "count", "as": "n"}], "groupby": ["g", "bk"]}, {"calculate": "(datum.g === 'DOTP' ? 1 : 2) + (datum.k % 2 == 0 ? 1 : -1) * (datum.n % 2 == 1 ? floor(datum.k / 2) : ceil(datum.k / 2) - 0.5) * min(0.095, 0.62 / max(1, datum.n - 1))", "as": "xp"}],
   "mark": {"type": "point", "shape": "circle", "filled": false, "size": 540, "strokeWidth": 3, "opacity": 1},
   "encoding": {"x": {"field": "xp", "type": "quantitative", "scale": {"domain": [0.335, 2.67], "nice": false, "zero": false}, "axis": {"values": [1, 2], "labelExpr": "datum.value == 1 ? 'DOTP' : 'Placebo'", "title": null}}, "y": {"field": "v", "type": "quantitative", "scale": {"domain": [-20, 20], "nice": false, "zero": false}, "axis": {"values": [-20, -10, 0, 10, 20], "labelExpr": "'' + datum.value", "title": null}}, "stroke": {"field": "g", "type": "nominal", "scale": {"domain": ["DOTP", "Placebo"], "range": ["#FF7A1C", "#0A9AD7"]}, "legend": null}}}
 ]},
 {"data": {"name": "h"}, "transform": [{"filter": "datum.p === 'C'"}], "layer": [
  {"mark": {"type": "rect", "color": "#000000"}, "encoding": {"x": {"datum": -0.256, "type": "quantitative", "scale": {"domain": [0, 1], "nice": false}, "axis": null}, "x2": {"datum": -0.043}, "y": {"datum": 1.2202, "type": "quantitative", "scale": {"domain": [0, 1], "nice": false}, "axis": null}, "y2": {"datum": 1.0585}}},
  {"mark": {"type": "text", "color": "#ffffff", "fontSize": 72, "font": "Liberation Sans", "baseline": "alphabetic", "align": "center"}, "encoding": {"x": {"datum": -0.15, "type": "quantitative", "axis": null}, "y": {"datum": 1.1124, "type": "quantitative", "axis": null}, "text": {"field": "letter"}}},
  {"mark": {"type": "text", "color": "#000000", "fontSize": 71, "font": "Liberation Sans", "baseline": "alphabetic", "align": "left"}, "encoding": {"x": {"datum": 0.199, "type": "quantitative", "axis": null}, "y": {"datum": 1.1124, "type": "quantitative", "axis": null}, "text": {"field": "title"}}}
 ]}
]},
{"width": 578, "height": 872, "resolve": {"scale": {"x": "independent", "y": "independent"}}, "layer": [
 {"data": {"name": "d"}, "layer": [
  {"transform": [{"filter": "datum.p === 'D'"}, {"density": "v", "groupby": ["g"], "bandwidth": 4, "extent": [-76, 88], "steps": 300, "as": ["v", "dens"]}, {"joinaggregate": [{"op": "max", "field": "dens", "as": "mx"}], "groupby": ["g"]}, {"calculate": "(datum.g === 'DOTP' ? 1 : 2) - 0.33 * datum.dens / datum.mx", "as": "xp"}, {"calculate": "(datum.g === 'DOTP' ? 1 : 2) + 0.33 * datum.dens / datum.mx", "as": "xr"}],
   "mark": {"type": "area", "orient": "horizontal", "opacity": 1},
   "encoding": {"x": {"field": "xp", "type": "quantitative", "scale": {"domain": [0.335, 2.67], "nice": false, "zero": false}, "axis": {"values": [1, 2], "labelExpr": "datum.value == 1 ? 'DOTP' : 'Placebo'", "title": null}}, "x2": {"field": "xr"}, "y": {"field": "v", "type": "quantitative", "scale": {"domain": [-90, 90], "nice": false, "zero": false}, "axis": {"values": [-90, -60, -30, 0, 30, 60, 90], "labelExpr": "'' + datum.value", "title": null}}, "fill": {"field": "g", "type": "nominal", "scale": {"domain": ["DOTP", "Placebo"], "range": ["#FDC086", "#C5E1FA"]}, "legend": null}}},
  {"transform": [{"filter": "datum.p === 'D'"}, {"calculate": "floor(datum.v / 5)", "as": "bk"}, {"window": [{"op": "row_number", "as": "k"}], "groupby": ["g", "bk"], "sort": [{"field": "v", "order": "ascending"}]}, {"joinaggregate": [{"op": "count", "as": "n"}], "groupby": ["g", "bk"]}, {"calculate": "(datum.g === 'DOTP' ? 1 : 2) + (datum.k % 2 == 0 ? 1 : -1) * (datum.n % 2 == 1 ? floor(datum.k / 2) : ceil(datum.k / 2) - 0.5) * min(0.095, 0.62 / max(1, datum.n - 1))", "as": "xp"}],
   "mark": {"type": "point", "shape": "circle", "filled": false, "size": 540, "strokeWidth": 3, "opacity": 1},
   "encoding": {"x": {"field": "xp", "type": "quantitative", "scale": {"domain": [0.335, 2.67], "nice": false, "zero": false}, "axis": {"values": [1, 2], "labelExpr": "datum.value == 1 ? 'DOTP' : 'Placebo'", "title": null}}, "y": {"field": "v", "type": "quantitative", "scale": {"domain": [-90, 90], "nice": false, "zero": false}, "axis": {"values": [-90, -60, -30, 0, 30, 60, 90], "labelExpr": "'' + datum.value", "title": null}}, "stroke": {"field": "g", "type": "nominal", "scale": {"domain": ["DOTP", "Placebo"], "range": ["#FF7A1C", "#0A9AD7"]}, "legend": null}}}
 ]},
 {"data": {"name": "h"}, "transform": [{"filter": "datum.p === 'D'"}], "layer": [
  {"mark": {"type": "rect", "color": "#000000"}, "encoding": {"x": {"datum": -0.256, "type": "quantitative", "scale": {"domain": [0, 1], "nice": false}, "axis": null}, "x2": {"datum": -0.043}, "y": {"datum": 1.2202, "type": "quantitative", "scale": {"domain": [0, 1], "nice": false}, "axis": null}, "y2": {"datum": 1.0585}}},
  {"mark": {"type": "text", "color": "#ffffff", "fontSize": 72, "font": "Liberation Sans", "baseline": "alphabetic", "align": "center"}, "encoding": {"x": {"datum": -0.15, "type": "quantitative", "axis": null}, "y": {"datum": 1.1124, "type": "quantitative", "axis": null}, "text": {"field": "letter"}}},
  {"mark": {"type": "text", "color": "#000000", "fontSize": 71, "font": "Liberation Sans", "baseline": "alphabetic", "align": "left"}, "encoding": {"x": {"datum": 0.199, "type": "quantitative", "axis": null}, "y": {"datum": 1.1124, "type": "quantitative", "axis": null}, "text": {"field": "title"}}}
 ]}
]},
{"width": 578, "height": 872, "resolve": {"scale": {"x": "independent", "y": "independent"}}, "layer": [
 {"data": {"name": "d"}, "layer": [
  {"transform": [{"filter": "datum.p === 'E'"}, {"density": "v", "groupby": ["g"], "bandwidth": 15, "extent": [-215, 280], "steps": 300, "as": ["v", "dens"]}, {"joinaggregate": [{"op": "max", "field": "dens", "as": "mx"}], "groupby": ["g"]}, {"calculate": "(datum.g === 'DOTP' ? 1 : 2) - 0.33 * datum.dens / datum.mx", "as": "xp"}, {"calculate": "(datum.g === 'DOTP' ? 1 : 2) + 0.33 * datum.dens / datum.mx", "as": "xr"}],
   "mark": {"type": "area", "orient": "horizontal", "opacity": 1},
   "encoding": {"x": {"field": "xp", "type": "quantitative", "scale": {"domain": [0.335, 2.67], "nice": false, "zero": false}, "axis": {"values": [1, 2], "labelExpr": "datum.value == 1 ? 'DOTP' : 'Placebo'", "title": null}}, "x2": {"field": "xr"}, "y": {"field": "v", "type": "quantitative", "scale": {"domain": [-400, 400], "nice": false, "zero": false}, "axis": {"values": [-400, -200, 0, 200, 400], "labelExpr": "'' + datum.value", "title": null}}, "fill": {"field": "g", "type": "nominal", "scale": {"domain": ["DOTP", "Placebo"], "range": ["#FDC086", "#C5E1FA"]}, "legend": null}}},
  {"transform": [{"filter": "datum.p === 'E'"}, {"calculate": "floor(datum.v / 15)", "as": "bk"}, {"window": [{"op": "row_number", "as": "k"}], "groupby": ["g", "bk"], "sort": [{"field": "v", "order": "ascending"}]}, {"joinaggregate": [{"op": "count", "as": "n"}], "groupby": ["g", "bk"]}, {"calculate": "(datum.g === 'DOTP' ? 1 : 2) + (datum.k % 2 == 0 ? 1 : -1) * (datum.n % 2 == 1 ? floor(datum.k / 2) : ceil(datum.k / 2) - 0.5) * min(0.095, 0.62 / max(1, datum.n - 1))", "as": "xp"}],
   "mark": {"type": "point", "shape": "circle", "filled": false, "size": 540, "strokeWidth": 3, "opacity": 1},
   "encoding": {"x": {"field": "xp", "type": "quantitative", "scale": {"domain": [0.335, 2.67], "nice": false, "zero": false}, "axis": {"values": [1, 2], "labelExpr": "datum.value == 1 ? 'DOTP' : 'Placebo'", "title": null}}, "y": {"field": "v", "type": "quantitative", "scale": {"domain": [-400, 400], "nice": false, "zero": false}, "axis": {"values": [-400, -200, 0, 200, 400], "labelExpr": "'' + datum.value", "title": null}}, "stroke": {"field": "g", "type": "nominal", "scale": {"domain": ["DOTP", "Placebo"], "range": ["#FF7A1C", "#0A9AD7"]}, "legend": null}}}
 ]},
 {"data": {"name": "h"}, "transform": [{"filter": "datum.p === 'E'"}], "layer": [
  {"mark": {"type": "rect", "color": "#000000"}, "encoding": {"x": {"datum": -0.256, "type": "quantitative", "scale": {"domain": [0, 1], "nice": false}, "axis": null}, "x2": {"datum": -0.043}, "y": {"datum": 1.2202, "type": "quantitative", "scale": {"domain": [0, 1], "nice": false}, "axis": null}, "y2": {"datum": 1.0585}}},
  {"mark": {"type": "text", "color": "#ffffff", "fontSize": 72, "font": "Liberation Sans", "baseline": "alphabetic", "align": "center"}, "encoding": {"x": {"datum": -0.15, "type": "quantitative", "axis": null}, "y": {"datum": 1.1124, "type": "quantitative", "axis": null}, "text": {"field": "letter"}}},
  {"mark": {"type": "text", "color": "#000000", "fontSize": 71, "font": "Liberation Sans", "baseline": "alphabetic", "align": "left"}, "encoding": {"x": {"datum": 0.199, "type": "quantitative", "axis": null}, "y": {"datum": 1.1124, "type": "quantitative", "axis": null}, "text": {"field": "title"}}}
 ]}
]},
{"width": 578, "height": 872, "resolve": {"scale": {"x": "independent", "y": "independent"}}, "layer": [
 {"data": {"name": "d"}, "layer": [
  {"transform": [{"filter": "datum.p === 'F'"}, {"density": "v", "groupby": ["g"], "bandwidth": 2, "extent": [-42, 37], "steps": 300, "as": ["v", "dens"]}, {"joinaggregate": [{"op": "max", "field": "dens", "as": "mx"}], "groupby": ["g"]}, {"calculate": "(datum.g === 'DOTP' ? 1 : 2) - 0.33 * datum.dens / datum.mx", "as": "xp"}, {"calculate": "(datum.g === 'DOTP' ? 1 : 2) + 0.33 * datum.dens / datum.mx", "as": "xr"}],
   "mark": {"type": "area", "orient": "horizontal", "opacity": 1},
   "encoding": {"x": {"field": "xp", "type": "quantitative", "scale": {"domain": [0.335, 2.67], "nice": false, "zero": false}, "axis": {"values": [1, 2], "labelExpr": "datum.value == 1 ? 'DOTP' : 'Placebo'", "title": null}}, "x2": {"field": "xr"}, "y": {"field": "v", "type": "quantitative", "scale": {"domain": [-50, 50], "nice": false, "zero": false}, "axis": {"values": [-50, -25, 0, 25, 50], "labelExpr": "'' + datum.value", "title": null}}, "fill": {"field": "g", "type": "nominal", "scale": {"domain": ["DOTP", "Placebo"], "range": ["#FDC086", "#C5E1FA"]}, "legend": null}}},
  {"transform": [{"filter": "datum.p === 'F'"}, {"calculate": "floor(datum.v / 3)", "as": "bk"}, {"window": [{"op": "row_number", "as": "k"}], "groupby": ["g", "bk"], "sort": [{"field": "v", "order": "ascending"}]}, {"joinaggregate": [{"op": "count", "as": "n"}], "groupby": ["g", "bk"]}, {"calculate": "(datum.g === 'DOTP' ? 1 : 2) + (datum.k % 2 == 0 ? 1 : -1) * (datum.n % 2 == 1 ? floor(datum.k / 2) : ceil(datum.k / 2) - 0.5) * min(0.095, 0.62 / max(1, datum.n - 1))", "as": "xp"}],
   "mark": {"type": "point", "shape": "circle", "filled": false, "size": 540, "strokeWidth": 3, "opacity": 1},
   "encoding": {"x": {"field": "xp", "type": "quantitative", "scale": {"domain": [0.335, 2.67], "nice": false, "zero": false}, "axis": {"values": [1, 2], "labelExpr": "datum.value == 1 ? 'DOTP' : 'Placebo'", "title": null}}, "y": {"field": "v", "type": "quantitative", "scale": {"domain": [-50, 50], "nice": false, "zero": false}, "axis": {"values": [-50, -25, 0, 25, 50], "labelExpr": "'' + datum.value", "title": null}}, "stroke": {"field": "g", "type": "nominal", "scale": {"domain": ["DOTP", "Placebo"], "range": ["#FF7A1C", "#0A9AD7"]}, "legend": null}}}
 ]},
 {"data": {"name": "h"}, "transform": [{"filter": "datum.p === 'F'"}], "layer": [
  {"mark": {"type": "rect", "color": "#000000"}, "encoding": {"x": {"datum": -0.256, "type": "quantitative", "scale": {"domain": [0, 1], "nice": false}, "axis": null}, "x2": {"datum": -0.043}, "y": {"datum": 1.2202, "type": "quantitative", "scale": {"domain": [0, 1], "nice": false}, "axis": null}, "y2": {"datum": 1.0585}}},
  {"mark": {"type": "text", "color": "#ffffff", "fontSize": 72, "font": "Liberation Sans", "baseline": "alphabetic", "align": "center"}, "encoding": {"x": {"datum": -0.15, "type": "quantitative", "axis": null}, "y": {"datum": 1.1124, "type": "quantitative", "axis": null}, "text": {"field": "letter"}}},
  {"mark": {"type": "text", "color": "#000000", "fontSize": 71, "font": "Liberation Sans", "baseline": "alphabetic", "align": "left"}, "encoding": {"x": {"datum": 0.199, "type": "quantitative", "axis": null}, "y": {"datum": 1.1124, "type": "quantitative", "axis": null}, "text": {"field": "title"}}}
 ]}
]},
{"width": 578, "height": 872, "resolve": {"scale": {"x": "independent", "y": "independent"}}, "layer": [
 {"data": {"name": "d"}, "layer": [
  {"transform": [{"filter": "datum.p === 'G'"}, {"density": "v", "groupby": ["g"], "bandwidth": 2.5, "extent": [-25, 34], "steps": 300, "as": ["v", "dens"]}, {"joinaggregate": [{"op": "max", "field": "dens", "as": "mx"}], "groupby": ["g"]}, {"calculate": "(datum.g === 'DOTP' ? 1 : 2) - 0.33 * datum.dens / datum.mx", "as": "xp"}, {"calculate": "(datum.g === 'DOTP' ? 1 : 2) + 0.33 * datum.dens / datum.mx", "as": "xr"}],
   "mark": {"type": "area", "orient": "horizontal", "opacity": 1},
   "encoding": {"x": {"field": "xp", "type": "quantitative", "scale": {"domain": [0.335, 2.67], "nice": false, "zero": false}, "axis": {"values": [1, 2], "labelExpr": "datum.value == 1 ? 'DOTP' : 'Placebo'", "title": null}}, "x2": {"field": "xr"}, "y": {"field": "v", "type": "quantitative", "scale": {"domain": [-40, 40], "nice": false, "zero": false}, "axis": {"values": [-40, -20, 0, 20, 40], "labelExpr": "'' + datum.value", "title": null}}, "fill": {"field": "g", "type": "nominal", "scale": {"domain": ["DOTP", "Placebo"], "range": ["#FDC086", "#C5E1FA"]}, "legend": null}}},
  {"transform": [{"filter": "datum.p === 'G'"}, {"calculate": "floor(datum.v / 2)", "as": "bk"}, {"window": [{"op": "row_number", "as": "k"}], "groupby": ["g", "bk"], "sort": [{"field": "v", "order": "ascending"}]}, {"joinaggregate": [{"op": "count", "as": "n"}], "groupby": ["g", "bk"]}, {"calculate": "(datum.g === 'DOTP' ? 1 : 2) + (datum.k % 2 == 0 ? 1 : -1) * (datum.n % 2 == 1 ? floor(datum.k / 2) : ceil(datum.k / 2) - 0.5) * min(0.095, 0.62 / max(1, datum.n - 1))", "as": "xp"}],
   "mark": {"type": "point", "shape": "circle", "filled": false, "size": 540, "strokeWidth": 3, "opacity": 1},
   "encoding": {"x": {"field": "xp", "type": "quantitative", "scale": {"domain": [0.335, 2.67], "nice": false, "zero": false}, "axis": {"values": [1, 2], "labelExpr": "datum.value == 1 ? 'DOTP' : 'Placebo'", "title": null}}, "y": {"field": "v", "type": "quantitative", "scale": {"domain": [-40, 40], "nice": false, "zero": false}, "axis": {"values": [-40, -20, 0, 20, 40], "labelExpr": "'' + datum.value", "title": null}}, "stroke": {"field": "g", "type": "nominal", "scale": {"domain": ["DOTP", "Placebo"], "range": ["#FF7A1C", "#0A9AD7"]}, "legend": null}}}
 ]},
 {"data": {"name": "h"}, "transform": [{"filter": "datum.p === 'G'"}], "layer": [
  {"mark": {"type": "rect", "color": "#000000"}, "encoding": {"x": {"datum": -0.256, "type": "quantitative", "scale": {"domain": [0, 1], "nice": false}, "axis": null}, "x2": {"datum": -0.043}, "y": {"datum": 1.2202, "type": "quantitative", "scale": {"domain": [0, 1], "nice": false}, "axis": null}, "y2": {"datum": 1.0585}}},
  {"mark": {"type": "text", "color": "#ffffff", "fontSize": 72, "font": "Liberation Sans", "baseline": "alphabetic", "align": "center"}, "encoding": {"x": {"datum": -0.15, "type": "quantitative", "axis": null}, "y": {"datum": 1.1124, "type": "quantitative", "axis": null}, "text": {"field": "letter"}}},
  {"mark": {"type": "text", "color": "#000000", "fontSize": 71, "font": "Liberation Sans", "baseline": "alphabetic", "align": "left"}, "encoding": {"x": {"datum": 0.199, "type": "quantitative", "axis": null}, "y": {"datum": 1.1124, "type": "quantitative", "axis": null}, "text": {"field": "title"}}}
 ]}
]},
{"width": 578, "height": 872, "resolve": {"scale": {"x": "independent", "y": "independent"}}, "layer": [
 {"data": {"name": "d"}, "layer": [
  {"transform": [{"filter": "datum.p === 'H'"}, {"density": "v", "groupby": ["g"], "bandwidth": 1.3, "extent": [-16, 20], "steps": 300, "as": ["v", "dens"]}, {"joinaggregate": [{"op": "max", "field": "dens", "as": "mx"}], "groupby": ["g"]}, {"calculate": "(datum.g === 'DOTP' ? 1 : 2) - 0.33 * datum.dens / datum.mx", "as": "xp"}, {"calculate": "(datum.g === 'DOTP' ? 1 : 2) + 0.33 * datum.dens / datum.mx", "as": "xr"}],
   "mark": {"type": "area", "orient": "horizontal", "opacity": 1},
   "encoding": {"x": {"field": "xp", "type": "quantitative", "scale": {"domain": [0.335, 2.67], "nice": false, "zero": false}, "axis": {"values": [1, 2], "labelExpr": "datum.value == 1 ? 'DOTP' : 'Placebo'", "title": null}}, "x2": {"field": "xr"}, "y": {"field": "v", "type": "quantitative", "scale": {"domain": [-20, 20], "nice": false, "zero": false}, "axis": {"values": [-20, -10, 0, 10, 20], "labelExpr": "'' + datum.value", "title": null}}, "fill": {"field": "g", "type": "nominal", "scale": {"domain": ["DOTP", "Placebo"], "range": ["#FDC086", "#C5E1FA"]}, "legend": null}}},
  {"transform": [{"filter": "datum.p === 'H'"}, {"calculate": "floor(datum.v / 2)", "as": "bk"}, {"window": [{"op": "row_number", "as": "k"}], "groupby": ["g", "bk"], "sort": [{"field": "v", "order": "ascending"}]}, {"joinaggregate": [{"op": "count", "as": "n"}], "groupby": ["g", "bk"]}, {"calculate": "(datum.g === 'DOTP' ? 1 : 2) + (datum.k % 2 == 0 ? 1 : -1) * (datum.n % 2 == 1 ? floor(datum.k / 2) : ceil(datum.k / 2) - 0.5) * min(0.095, 0.62 / max(1, datum.n - 1))", "as": "xp"}],
   "mark": {"type": "point", "shape": "circle", "filled": false, "size": 540, "strokeWidth": 3, "opacity": 1},
   "encoding": {"x": {"field": "xp", "type": "quantitative", "scale": {"domain": [0.335, 2.67], "nice": false, "zero": false}, "axis": {"values": [1, 2], "labelExpr": "datum.value == 1 ? 'DOTP' : 'Placebo'", "title": null}}, "y": {"field": "v", "type": "quantitative", "scale": {"domain": [-20, 20], "nice": false, "zero": false}, "axis": {"values": [-20, -10, 0, 10, 20], "labelExpr": "'' + datum.value", "title": null}}, "stroke": {"field": "g", "type": "nominal", "scale": {"domain": ["DOTP", "Placebo"], "range": ["#FF7A1C", "#0A9AD7"]}, "legend": null}}}
 ]},
 {"data": {"name": "h"}, "transform": [{"filter": "datum.p === 'H'"}], "layer": [
  {"mark": {"type": "rect", "color": "#000000"}, "encoding": {"x": {"datum": -0.256, "type": "quantitative", "scale": {"domain": [0, 1], "nice": false}, "axis": null}, "x2": {"datum": -0.043}, "y": {"datum": 1.2202, "type": "quantitative", "scale": {"domain": [0, 1], "nice": false}, "axis": null}, "y2": {"datum": 1.0585}}},
  {"mark": {"type": "text", "color": "#ffffff", "fontSize": 72, "font": "Liberation Sans", "baseline": "alphabetic", "align": "center"}, "encoding": {"x": {"datum": -0.15, "type": "quantitative", "axis": null}, "y": {"datum": 1.1124, "type": "quantitative", "axis": null}, "text": {"field": "letter"}}},
  {"mark": {"type": "text", "color": "#000000", "fontSize": 71, "font": "Liberation Sans", "baseline": "alphabetic", "align": "left"}, "encoding": {"x": {"datum": 0.199, "type": "quantitative", "axis": null}, "y": {"datum": 1.1124, "type": "quantitative", "axis": null}, "text": {"field": "title"}}}
 ]}
]},
{"width": 578, "height": 872, "resolve": {"scale": {"x": "independent", "y": "independent"}}, "layer": [
 {"data": {"name": "d"}, "layer": [
  {"transform": [{"filter": "datum.p === 'I'"}, {"density": "v", "groupby": ["g"], "bandwidth": 2.5, "extent": [-25, 47], "steps": 300, "as": ["v", "dens"]}, {"joinaggregate": [{"op": "max", "field": "dens", "as": "mx"}], "groupby": ["g"]}, {"calculate": "(datum.g === 'DOTP' ? 1 : 2) - 0.33 * datum.dens / datum.mx", "as": "xp"}, {"calculate": "(datum.g === 'DOTP' ? 1 : 2) + 0.33 * datum.dens / datum.mx", "as": "xr"}],
   "mark": {"type": "area", "orient": "horizontal", "opacity": 1},
   "encoding": {"x": {"field": "xp", "type": "quantitative", "scale": {"domain": [0.335, 2.67], "nice": false, "zero": false}, "axis": {"values": [1, 2], "labelExpr": "datum.value == 1 ? 'DOTP' : 'Placebo'", "title": null}}, "x2": {"field": "xr"}, "y": {"field": "v", "type": "quantitative", "scale": {"domain": [-50, 50], "nice": false, "zero": false}, "axis": {"values": [-50, -25, 0, 25, 50], "labelExpr": "'' + datum.value", "title": null}}, "fill": {"field": "g", "type": "nominal", "scale": {"domain": ["DOTP", "Placebo"], "range": ["#FDC086", "#C5E1FA"]}, "legend": null}}},
  {"transform": [{"filter": "datum.p === 'I'"}, {"calculate": "floor(datum.v / 3)", "as": "bk"}, {"window": [{"op": "row_number", "as": "k"}], "groupby": ["g", "bk"], "sort": [{"field": "v", "order": "ascending"}]}, {"joinaggregate": [{"op": "count", "as": "n"}], "groupby": ["g", "bk"]}, {"calculate": "(datum.g === 'DOTP' ? 1 : 2) + (datum.k % 2 == 0 ? 1 : -1) * (datum.n % 2 == 1 ? floor(datum.k / 2) : ceil(datum.k / 2) - 0.5) * min(0.095, 0.62 / max(1, datum.n - 1))", "as": "xp"}],
   "mark": {"type": "point", "shape": "circle", "filled": false, "size": 540, "strokeWidth": 3, "opacity": 1},
   "encoding": {"x": {"field": "xp", "type": "quantitative", "scale": {"domain": [0.335, 2.67], "nice": false, "zero": false}, "axis": {"values": [1, 2], "labelExpr": "datum.value == 1 ? 'DOTP' : 'Placebo'", "title": null}}, "y": {"field": "v", "type": "quantitative", "scale": {"domain": [-50, 50], "nice": false, "zero": false}, "axis": {"values": [-50, -25, 0, 25, 50], "labelExpr": "'' + datum.value", "title": null}}, "stroke": {"field": "g", "type": "nominal", "scale": {"domain": ["DOTP", "Placebo"], "range": ["#FF7A1C", "#0A9AD7"]}, "legend": null}}}
 ]},
 {"data": {"name": "h"}, "transform": [{"filter": "datum.p === 'I'"}], "layer": [
  {"mark": {"type": "rect", "color": "#000000"}, "encoding": {"x": {"datum": -0.256, "type": "quantitative", "scale": {"domain": [0, 1], "nice": false}, "axis": null}, "x2": {"datum": -0.043}, "y": {"datum": 1.2202, "type": "quantitative", "scale": {"domain": [0, 1], "nice": false}, "axis": null}, "y2": {"datum": 1.0585}}},
  {"mark": {"type": "text", "color": "#ffffff", "fontSize": 72, "font": "Liberation Sans", "baseline": "alphabetic", "align": "center"}, "encoding": {"x": {"datum": -0.15, "type": "quantitative", "axis": null}, "y": {"datum": 1.1124, "type": "quantitative", "axis": null}, "text": {"field": "letter"}}},
  {"mark": {"type": "text", "color": "#000000", "fontSize": 71, "font": "Liberation Sans", "baseline": "alphabetic", "align": "left"}, "encoding": {"x": {"datum": 0.199, "type": "quantitative", "axis": null}, "y": {"datum": 1.1124, "type": "quantitative", "axis": null}, "text": {"field": "title"}}}
 ]}
]}
]},
{"hconcat": [
{"width": 578, "height": 860, "resolve": {"scale": {"x": "independent", "y": "independent"}}, "layer": [
 {"data": {"name": "d"}, "layer": [
  {"transform": [{"filter": "datum.p === 'J'"}, {"density": "v", "groupby": ["g"], "bandwidth": 1.2, "extent": [-42, 35], "steps": 300, "as": ["v", "dens"]}, {"joinaggregate": [{"op": "max", "field": "dens", "as": "mx"}], "groupby": ["g"]}, {"calculate": "(datum.g === 'DOTP' ? 1 : 2) - 0.33 * datum.dens / datum.mx", "as": "xp"}, {"calculate": "(datum.g === 'DOTP' ? 1 : 2) + 0.33 * datum.dens / datum.mx", "as": "xr"}],
   "mark": {"type": "area", "orient": "horizontal", "opacity": 1},
   "encoding": {"x": {"field": "xp", "type": "quantitative", "scale": {"domain": [0.335, 2.67], "nice": false, "zero": false}, "axis": {"values": [1, 2], "labelExpr": "datum.value == 1 ? 'DOTP' : 'Placebo'", "title": null}}, "x2": {"field": "xr"}, "y": {"field": "v", "type": "quantitative", "scale": {"domain": [-50, 50], "nice": false, "zero": false}, "axis": {"values": [-50, -25, 0, 25, 50], "labelExpr": "'' + datum.value", "title": null}}, "fill": {"field": "g", "type": "nominal", "scale": {"domain": ["DOTP", "Placebo"], "range": ["#FDC086", "#C5E1FA"]}, "legend": null}}},
  {"transform": [{"filter": "datum.p === 'J'"}, {"calculate": "floor(datum.v / 3)", "as": "bk"}, {"window": [{"op": "row_number", "as": "k"}], "groupby": ["g", "bk"], "sort": [{"field": "v", "order": "ascending"}]}, {"joinaggregate": [{"op": "count", "as": "n"}], "groupby": ["g", "bk"]}, {"calculate": "(datum.g === 'DOTP' ? 1 : 2) + (datum.k % 2 == 0 ? 1 : -1) * (datum.n % 2 == 1 ? floor(datum.k / 2) : ceil(datum.k / 2) - 0.5) * min(0.095, 0.62 / max(1, datum.n - 1))", "as": "xp"}],
   "mark": {"type": "point", "shape": "circle", "filled": false, "size": 540, "strokeWidth": 3, "opacity": 1},
   "encoding": {"x": {"field": "xp", "type": "quantitative", "scale": {"domain": [0.335, 2.67], "nice": false, "zero": false}, "axis": {"values": [1, 2], "labelExpr": "datum.value == 1 ? 'DOTP' : 'Placebo'", "title": null}}, "y": {"field": "v", "type": "quantitative", "scale": {"domain": [-50, 50], "nice": false, "zero": false}, "axis": {"values": [-50, -25, 0, 25, 50], "labelExpr": "'' + datum.value", "title": null}}, "stroke": {"field": "g", "type": "nominal", "scale": {"domain": ["DOTP", "Placebo"], "range": ["#FF7A1C", "#0A9AD7"]}, "legend": null}}}
 ]},
 {"data": {"name": "h"}, "transform": [{"filter": "datum.p === 'J'"}], "layer": [
  {"mark": {"type": "rect", "color": "#000000"}, "encoding": {"x": {"datum": -0.256, "type": "quantitative", "scale": {"domain": [0, 1], "nice": false}, "axis": null}, "x2": {"datum": -0.043}, "y": {"datum": 1.2233, "type": "quantitative", "scale": {"domain": [0, 1], "nice": false}, "axis": null}, "y2": {"datum": 1.0593}}},
  {"mark": {"type": "text", "color": "#ffffff", "fontSize": 72, "font": "Liberation Sans", "baseline": "alphabetic", "align": "center"}, "encoding": {"x": {"datum": -0.15, "type": "quantitative", "axis": null}, "y": {"datum": 1.114, "type": "quantitative", "axis": null}, "text": {"field": "letter"}}},
  {"mark": {"type": "text", "color": "#000000", "fontSize": 71, "font": "Liberation Sans", "baseline": "alphabetic", "align": "left"}, "encoding": {"x": {"datum": 0.199, "type": "quantitative", "axis": null}, "y": {"datum": 1.114, "type": "quantitative", "axis": null}, "text": {"field": "title"}}}
 ]}
]},
{"width": 578, "height": 860, "resolve": {"scale": {"x": "independent", "y": "independent"}}, "layer": [
 {"layer": [
  {"data": {"values": [{"z": 0}]}, "mark": {"type": "rule", "color": "#D9D9D9", "strokeWidth": 3}, "encoding": {"y": {"field": "z", "type": "quantitative", "scale": {"domain": [-100, 100], "nice": false, "zero": false}, "axis": {"values": [-100, -50, 0, 50, 100], "labelExpr": "'' + datum.value", "title": null}}}},
  {"data": {"name": "d"}, "transform": [{"filter": "datum.p === 'K'"}, {"density": "v", "groupby": ["g"], "bandwidth": 3, "extent": [-74, 78], "steps": 300, "as": ["v", "dens"]}, {"joinaggregate": [{"op": "max", "field": "dens", "as": "mx"}], "groupby": ["g"]}, {"calculate": "(datum.g === 'DOTP' ? 1 : 2) - 0.33 * datum.dens / datum.mx", "as": "xp"}, {"calculate": "(datum.g === 'DOTP' ? 1 : 2) + 0.33 * datum.dens / datum.mx", "as": "xr"}],
   "mark": {"type": "area", "orient": "horizontal", "opacity": 1},
   "encoding": {"x": {"field": "xp", "type": "quantitative", "scale": {"domain": [0.335, 2.67], "nice": false, "zero": false}, "axis": {"values": [1, 2], "labelExpr": "datum.value == 1 ? 'DOTP' : 'Placebo'", "title": null}}, "x2": {"field": "xr"}, "y": {"field": "v", "type": "quantitative", "scale": {"domain": [-100, 100], "nice": false, "zero": false}, "axis": {"values": [-100, -50, 0, 50, 100], "labelExpr": "'' + datum.value", "title": null}}, "fill": {"field": "g", "type": "nominal", "scale": {"domain": ["DOTP", "Placebo"], "range": ["#FDC086", "#C5E1FA"]}, "legend": null}}},
  {"data": {"name": "d"}, "transform": [{"filter": "datum.p === 'K'"}, {"calculate": "floor(datum.v / 5)", "as": "bk"}, {"window": [{"op": "row_number", "as": "k"}], "groupby": ["g", "bk"], "sort": [{"field": "v", "order": "ascending"}]}, {"joinaggregate": [{"op": "count", "as": "n"}], "groupby": ["g", "bk"]}, {"calculate": "(datum.g === 'DOTP' ? 1 : 2) + (datum.k % 2 == 0 ? 1 : -1) * (datum.n % 2 == 1 ? floor(datum.k / 2) : ceil(datum.k / 2) - 0.5) * min(0.095, 0.62 / max(1, datum.n - 1))", "as": "xp"}],
   "mark": {"type": "point", "shape": "circle", "filled": false, "size": 540, "strokeWidth": 3, "opacity": 1},
   "encoding": {"x": {"field": "xp", "type": "quantitative", "scale": {"domain": [0.335, 2.67], "nice": false, "zero": false}, "axis": {"values": [1, 2], "labelExpr": "datum.value == 1 ? 'DOTP' : 'Placebo'", "title": null}}, "y": {"field": "v", "type": "quantitative", "scale": {"domain": [-100, 100], "nice": false, "zero": false}, "axis": {"values": [-100, -50, 0, 50, 100], "labelExpr": "'' + datum.value", "title": null}}, "stroke": {"field": "g", "type": "nominal", "scale": {"domain": ["DOTP", "Placebo"], "range": ["#FF7A1C", "#0A9AD7"]}, "legend": null}}}
 ]},
 {"data": {"name": "h"}, "transform": [{"filter": "datum.p === 'K'"}], "layer": [
  {"mark": {"type": "rect", "color": "#000000"}, "encoding": {"x": {"datum": -0.256, "type": "quantitative", "scale": {"domain": [0, 1], "nice": false}, "axis": null}, "x2": {"datum": -0.043}, "y": {"datum": 1.2233, "type": "quantitative", "scale": {"domain": [0, 1], "nice": false}, "axis": null}, "y2": {"datum": 1.0593}}},
  {"mark": {"type": "text", "color": "#ffffff", "fontSize": 72, "font": "Liberation Sans", "baseline": "alphabetic", "align": "center"}, "encoding": {"x": {"datum": -0.15, "type": "quantitative", "axis": null}, "y": {"datum": 1.114, "type": "quantitative", "axis": null}, "text": {"field": "letter"}}},
  {"mark": {"type": "text", "color": "#000000", "fontSize": 71, "font": "Liberation Sans", "baseline": "alphabetic", "align": "left"}, "encoding": {"x": {"datum": 0.199, "type": "quantitative", "axis": null}, "y": {"datum": 1.114, "type": "quantitative", "axis": null}, "text": {"field": "title"}}}
 ]}
]}
], "spacing": 421, "bounds": "flush"}
]
}
